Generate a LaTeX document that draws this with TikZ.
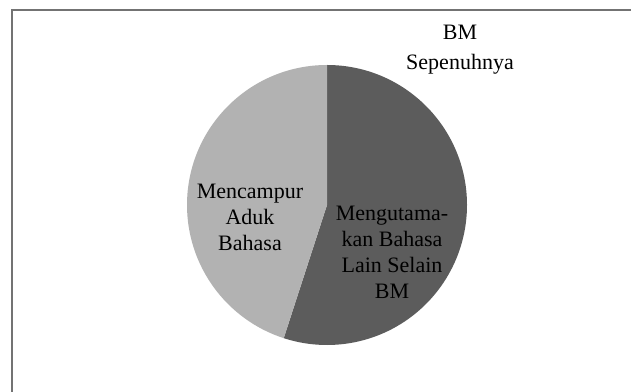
\documentclass[tikz,border=0pt]{standalone}
\usepackage{fontspec}
\setmainfont{Liberation Serif}
\usetikzlibrary{calc}
\definecolor{darkslice}{gray}{0.36}
\definecolor{lightslice}{gray}{0.70}
\definecolor{framegray}{gray}{0.45}
\tikzset{lbl/.style={align=center, font=\fontsize{11}{13}\selectfont, inner sep=0pt}}

\begin{document}
\begin{tikzpicture}[x=0.5pt,y=0.5pt]
\clip (0,0) rectangle (631,391);
\fill [white] (0,0) rectangle (631,391);
\draw [framegray, line width=0.8pt] (12,-20) -- (12,381) -- (660,381);
\coordinate (c) at (327,186);
\fill [darkslice] (c) -- ++(90:140) arc [start angle=90, end angle=-108, radius=140] -- cycle;
\fill [lightslice] (c) -- ++(90:140) arc [start angle=90, end angle=252, radius=140] -- cycle;
\node [lbl] (mix) at (250,174) {Mencampur\\Aduk\\Bahasa};
\node [lbl] (other) at (392,139) {Mengutama-\\kan Bahasa\\Lain Selain\\BM};
\node [lbl] (full) at (460,341) {BM\\[2pt]Sepenuhnya};
\end{tikzpicture}
\end{document}
